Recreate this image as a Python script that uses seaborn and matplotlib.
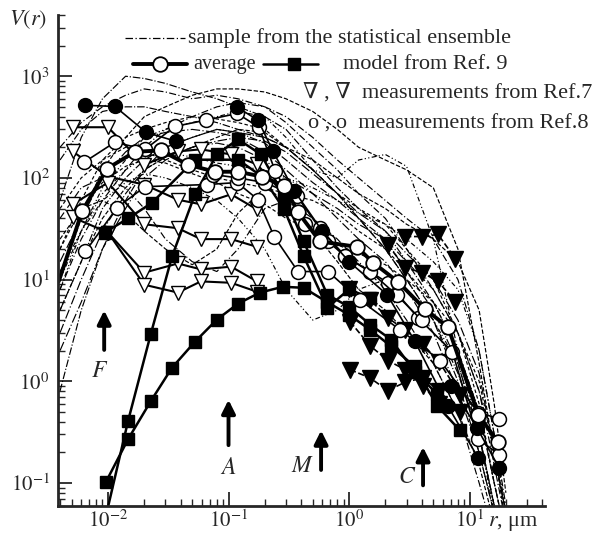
import numpy as np
import pandas as pd
import seaborn as sns
import matplotlib
matplotlib.use("Agg")
import matplotlib.pyplot as plt
from matplotlib.lines import Line2D
from matplotlib.ticker import LogLocator, NullFormatter

# ---------------- data ----------------
r_grid = [0.004, 0.006, 0.009, 0.014, 0.02, 0.03, 0.05, 0.08, 0.12, 0.2, 0.3,
          0.5, 0.8, 1.2, 2, 3, 5, 8, 12, 16, 20]
sample_01 = [60, 250, 600, 1000, 950, 850, 700, 600, 500, 400, 300, 150, 80, 50, 30, 15, 6, 2, 0.5, 0.1, 0.03]
sample_02 = [200, 350, 500, 650, 750, 700, 600, 650, 600, 500, 350, 200, 120, 70, 40, 20, 8, 3, 0.8, 0.15, 0.04]
sample_03 = [10, 40, 120, 250, 400, 500, 650, 750, 750, 700, 600, 450, 300, 200, 150, 120, 80, 20, 1.5, 0.2, 0.05]
sample_04 = [8, 30, 80, 150, 250, 300, 350, 400, 450, 400, 250, 120, 100, 150, 170, 130, 25, 2, 0.3, 0.06, 0.02]
sample_05 = [20, 60, 150, 250, 300, 350, 400, 380, 350, 300, 200, 120, 70, 50, 35, 20, 10, 3, 0.6, 0.1, 0.03]
sample_06 = [15, 40, 100, 180, 250, 280, 300, 280, 250, 180, 120, 70, 40, 25, 15, 8, 3, 0.8, 0.2, 0.05, 0.02]
sample_07 = [5, 15, 50, 100, 150, 200, 250, 300, 280, 220, 150, 90, 60, 40, 25, 12, 5, 1.5, 0.3, 0.06, 0.02]
sample_08 = [40, 80, 100, 80, 50, 25, 15, 12, 20, 50, 60, 40, 25, 15, 8, 4, 1.5, 0.5, 0.1, 0.03, 0.01]
sample_09 = [25, 50, 60, 45, 30, 20, 14, 20, 45, 80, 60, 30, 15, 8, 5, 3, 1.5, 0.5, 0.15, 0.04, 0.01]
sample_10 = [12, 30, 60, 90, 110, 100, 80, 60, 40, 20, 8, 4, 5, 8, 10, 8, 4, 1.5, 0.3, 0.05, 0.01]
sample_11 = [50, 100, 150, 200, 180, 150, 120, 100, 90, 80, 70, 60, 45, 30, 20, 12, 6, 2, 0.5, 0.1, 0.03]
sample_12 = [3, 10, 30, 70, 120, 160, 200, 220, 200, 150, 100, 70, 50, 35, 25, 15, 8, 3, 0.8, 0.2, 0.05]
sample_13 = [150, 300, 450, 500, 500, 450, 400, 350, 300, 250, 200, 120, 70, 40, 20, 10, 4, 1, 0.2, 0.05, 0.02]
sample_14 = [8, 25, 60, 120, 200, 300, 400, 500, 550, 500, 400, 250, 150, 100, 60, 40, 25, 10, 2, 0.3, 0.06]
sample_15 = [5, 15, 40, 80, 120, 160, 200, 250, 300, 280, 200, 150, 100, 70, 50, 35, 25, 15, 5, 0.6, 0.08]
sample_16 = [10, 30, 70, 120, 160, 180, 160, 140, 130, 120, 100, 80, 60, 45, 35, 25, 15, 8, 2, 0.3, 0.05]
sample_17 = [20, 50, 90, 130, 150, 140, 110, 90, 70, 55, 40, 30, 22, 18, 14, 10, 6, 3, 1, 0.2, 0.04]
sample_18 = [2, 6, 20, 50, 100, 150, 200, 230, 250, 230, 180, 110, 70, 45, 30, 18, 10, 4, 1.2, 0.2, 0.05]
sample_19 = [0.8, 5, 20, 60, 120, 200, 250, 300, 280, 250, 200, 120, 70, 40, 20, 10, 4, 1.2, 0.3, 0.06, 0.02]
samples = [sample_01, sample_02, sample_03, sample_04, sample_05, sample_06, sample_07,
           sample_08, sample_09, sample_10, sample_11, sample_12, sample_13, sample_14,
           sample_15, sample_16, sample_17, sample_18, sample_19]

# average of the ensemble
avg_r = [0.0039, 0.0061, 0.0098, 0.0168, 0.0275, 0.046, 0.077, 0.12, 0.19, 0.29, 0.377,
         0.574, 1.16, 1.58, 2.55, 4.28, 6.64, 11.8, 17.3]
avg_v = [9.6, 47, 123, 181, 186, 135, 115, 115, 103, 83, 46, 23.7, 21, 14.7, 9.5, 5.1, 3.4, 0.47, 0.25]

# model from Ref. 9
model1_r = [0.0096, 0.0147, 0.0227, 0.034, 0.0527, 0.08, 0.12, 0.182, 0.283, 0.42, 0.66, 1.0, 1.5, 2.24, 3.5, 5.4, 8.3]
model1_v = [0.102, 0.27, 0.64, 1.36, 2.45, 4.04, 5.8, 7.45, 8.5, 8.3, 6.0, 4.5, 3.2, 2.2, 1.4, 0.57, 0.33]
model2_r = [0.0093, 0.0147, 0.0227, 0.034, 0.0527, 0.08, 0.12, 0.186, 0.29, 0.42, 0.66, 1.0, 1.5, 2.24, 3.5, 5.4]
model2_v = [0.04, 0.41, 2.94, 16.9, 69, 170, 240, 170, 66, 23.7, 7.1, 5.4, 3.6, 2.56, 1.24, 0.75]
model3_r = [0.0094, 0.0147, 0.0232, 0.0527, 0.12, 0.19, 0.29, 0.42, 0.66, 1.0, 1.5]
model3_v = [29, 40, 57, 151, 151, 103, 49, 17, 5.3, 8.0, 6.6]

# measurements from Ref. 7 (open and filled triangles)
tri1_r = [0.0051, 0.01, 0.02, 0.038, 0.059, 0.105, 0.172, 0.29]
tri1_v = [315, 315, 135, 182, 191, 170, 136, 69]
tri2_r = [0.0051, 0.01, 0.02, 0.038, 0.059, 0.105, 0.172]
tri2_v = [182, 103, 86, 61, 55, 69, 49]
tri3_r = [0.0051, 0.01, 0.02, 0.038, 0.059, 0.105, 0.172]
tri3_v = [55, 90, 35, 32, 25, 25, 21]
tri4_r = [0.0051, 0.01, 0.02, 0.038, 0.059, 0.105, 0.172]
tri4_v = [41, 29, 11.7, 14.4, 12.6, 13.4, 9.6]
tri5_r = [0.01, 0.02, 0.038, 0.059, 0.105, 0.172]
tri5_v = [29, 8.9, 7.45, 9.6, 9.3, 7.6]
ftri1_r = [2.92, 4.04, 5.48, 7.6]
ftri1_v = [26.5, 26.5, 27.8, 16.1]
ftri2_r = [2.1, 2.92, 4.04, 5.48, 7.6]
ftri2_v = [22, 13.1, 11.7, 9.6, 6.07]
ftri3_r = [1.0, 1.49, 2.1, 2.92, 4.1, 5.6, 8.3]
ftri3_v = [8.0, 6.35, 4.2, 3.2, 2.3, 1.55, 0.74]
ftri4_r = [1.02, 1.49, 2.1, 2.92, 4.1, 5.6]
ftri4_v = [3.86, 2.24, 1.6, 1.3, 0.9, 0.6]
ftri5_r = [1.02, 1.49, 2.1, 2.92, 4.11, 5.6, 8.3]
ftri5_v = [1.3, 1.08, 0.81, 0.98, 1.08, 0.8, 0.5]

# measurements from Ref. 8 (open and filled circles)
circ1_r = [0.0063, 0.0114, 0.0203, 0.036, 0.065, 0.118, 0.179, 0.243, 0.43, 0.67, 0.93, 2.1, 3.74, 7.2, 11.8, 17.6]
circ1_v = [142, 224, 191, 321, 370, 430, 315, 118, 35, 23.7, 16.9, 9.3, 4.2, 1.95, 0.27, 0.19]
circ2_r = [0.0065, 0.0119, 0.0203, 0.066, 0.118, 0.176, 0.239, 0.377, 0.67, 1.23, 2.65, 5.7, 11.8, 17.6]
circ2_v = [18.9, 51, 82, 86, 90, 61, 26.5, 12, 12, 6.3, 3.2, 1.6, 0.49, 0.43]
circ3_r = [0.074, 0.12, 0.2, 0.37, 0.57, 0.93, 1.5, 2.5, 4.0]
circ3_v = [108, 100, 90, 66, 32, 17, 12, 7, 4]
fcirc1_r = [0.0065, 0.0114, 0.0207, 0.0366]
fcirc1_v = [517, 505, 281, 229]
fcirc2_r = [0.118, 0.176, 0.234, 0.35, 0.6, 1.0, 2.07, 3.5, 6.6, 11.8]
fcirc2_v = [495, 369, 182, 75, 30, 15, 7.1, 2.5, 0.57, 0.176]
fcirc3_r = [7.0, 11.5, 17.6]
fcirc3_v = [0.9, 0.35, 0.14]

x_ticks = [0.01, 0.1, 1, 10]
x_ticklabels = [r"$10^{-2}$", r"$10^{-1}$", r"$10^{0}$", r"$10^{1}$"]
y_ticks = [0.1, 1, 10, 100, 1000]
y_ticklabels = [r"$10^{-1}$", r"$10^{0}$", r"$10^{1}$", r"$10^{2}$", r"$10^{3}$"]

# ---------------- style ----------------
sns.set_style("ticks")
plt.rcParams["font.family"] = ["Liberation Serif", "DejaVu Serif"]
plt.rcParams["mathtext.fontset"] = "stix"

fig = plt.figure(figsize=(5.95, 5.34), dpi=100)
ax = fig.add_axes([0.0975, 0.0524, 0.818, 0.9195])
ax.set_xscale("log")
ax.set_yscale("log")

sample_styles = ["-.", (0, (6, 2, 1, 2)), "--", (0, (4, 2, 1, 2, 1, 2)), (0, (3, 2)), (0, (8, 2, 1, 2))]

def line(x, y, **kw):
    df = pd.DataFrame({"r": x, "V": y})
    sns.lineplot(data=df, x="r", y="V", ax=ax, sort=False, estimator=None,
                 color="black", legend=False, **kw)

for i, s in enumerate(samples):
    line(r_grid, s, lw=0.85, linestyle=sample_styles[i % len(sample_styles)])

open_tri = dict(marker="v", markersize=10, markerfacecolor="white", markeredgecolor="black", mew=1.0)
for tx, ty in [(tri1_r, tri1_v), (tri2_r, tri2_v), (tri3_r, tri3_v), (tri4_r, tri4_v), (tri5_r, tri5_v)]:
    line(tx, ty, lw=1.5, **open_tri)

fill_tri = dict(marker="v", markersize=11, markerfacecolor="black", markeredgecolor="black", mew=1.0)
for tx, ty in [(ftri1_r, ftri1_v), (ftri2_r, ftri2_v), (ftri3_r, ftri3_v), (ftri4_r, ftri4_v), (ftri5_r, ftri5_v)]:
    line(tx, ty, lw=1.2, linestyle="--", **fill_tri)

sq = dict(marker="s", markersize=9, markerfacecolor="black", markeredgecolor="black", mew=1.0)
line(model1_r, model1_v, lw=1.8, **sq)
line(model2_r, model2_v, lw=1.8, **sq)
line(model3_r, model3_v, lw=1.8, **sq)

oc = dict(marker="o", markersize=10, markerfacecolor="white", markeredgecolor="black", mew=1.1)
for cx, cy in [(circ1_r, circ1_v), (circ2_r, circ2_v), (circ3_r, circ3_v)]:
    line(cx, cy, lw=1.2, **oc)

fc = dict(marker="o", markersize=10, markerfacecolor="black", markeredgecolor="black", mew=1.0)
for cx, cy in [(fcirc1_r, fcirc1_v), (fcirc2_r, fcirc2_v), (fcirc3_r, fcirc3_v)]:
    line(cx, cy, lw=1.2, **fc)

line(avg_r, avg_v, lw=2.8, marker="o", markersize=10.5, markerfacecolor="white",
     markeredgecolor="black", mew=1.3, markevery=list(range(1, len(avg_r))))

# ---------------- axes ----------------
ax.set_xlim(0.00385, 42)
ax.set_ylim(0.0593, 4000)
ax.set_xticks(x_ticks)
ax.set_xticklabels(x_ticklabels)
ax.set_yticks(y_ticks)
ax.set_yticklabels(y_ticklabels)
ax.xaxis.set_minor_locator(LogLocator(base=10, subs=np.arange(2, 10)))
ax.yaxis.set_minor_locator(LogLocator(base=10, subs=np.arange(2, 10)))
ax.xaxis.set_minor_formatter(NullFormatter())
ax.yaxis.set_minor_formatter(NullFormatter())
ax.tick_params(which="major", direction="in", length=10, width=1.3, labelsize=15)
ax.tick_params(axis="x", which="major", pad=3)
ax.tick_params(axis="y", which="major", pad=6)
ax.tick_params(which="minor", direction="in", length=5, width=1.0)
ax.set_xlabel("")
ax.set_ylabel("")
sns.despine(ax=ax, top=True, right=True)
for sp in ["left", "bottom"]:
    ax.spines[sp].set_linewidth(2.0)

ax.text(-0.1, 0.99, r"$V(r)$", transform=ax.transAxes, fontsize=16, ha="left", va="center")
ax.text(0.883, -0.036, r"$r$, μm", transform=ax.transAxes, fontsize=16, ha="left", va="center")

# arrows with labels
for (xr, y0, y1, lab, lx, ly) in [(0.0093, 1.91, 5.3, "F", 0.0086, 1.24),
                                  (0.1, 0.221, 0.7, "A", 0.1, 0.14),
                                  (0.586, 0.126, 0.35, "M", 0.41, 0.145),
                                  (4.11, 0.089, 0.24, "C", 3.03, 0.112)]:
    ax.annotate("", xy=(xr, y1), xytext=(xr, y0),
                arrowprops=dict(arrowstyle="-|>", lw=2.8, color="black", mutation_scale=20))
    ax.text(lx, ly, "$" + lab + "$", fontsize=17, ha="center", va="center")

# legend drawn by hand
T = ax.transAxes
ax.add_line(Line2D([0.138, 0.261], [0.953, 0.953], transform=T, color="black", lw=0.9,
                   linestyle=(0, (6, 2, 1, 2)), clip_on=False))
ax.text(0.267, 0.953, "sample from the statistical ensemble", transform=T, fontsize=16, va="center")
ax.add_line(Line2D([0.154, 0.265], [0.900, 0.900], transform=T, color="black", lw=2.8, clip_on=False))
ax.add_line(Line2D([0.209], [0.900], transform=T, marker="o", markersize=10.5, markerfacecolor="white",
                   markeredgecolor="black", mew=1.3, clip_on=False))
ax.text(0.277, 0.900, "average", transform=T, fontsize=14.5, va="center")
ax.add_line(Line2D([0.421, 0.534], [0.900, 0.900], transform=T, color="black", lw=1.8, clip_on=False))
ax.add_line(Line2D([0.485], [0.900], transform=T, marker="s", markersize=9, color="black", clip_on=False))
ax.text(0.585, 0.900, "model from Ref. 9", transform=T, fontsize=16, va="center")
ax.text(0.503, 0.841, "∇ , ∇  measurements from Ref.7", transform=T, fontsize=16, va="center")
ax.text(0.513, 0.778, "o , o  measurements from Ref.8", transform=T, fontsize=16, va="center")

fig.savefig("out.png", dpi=100)
